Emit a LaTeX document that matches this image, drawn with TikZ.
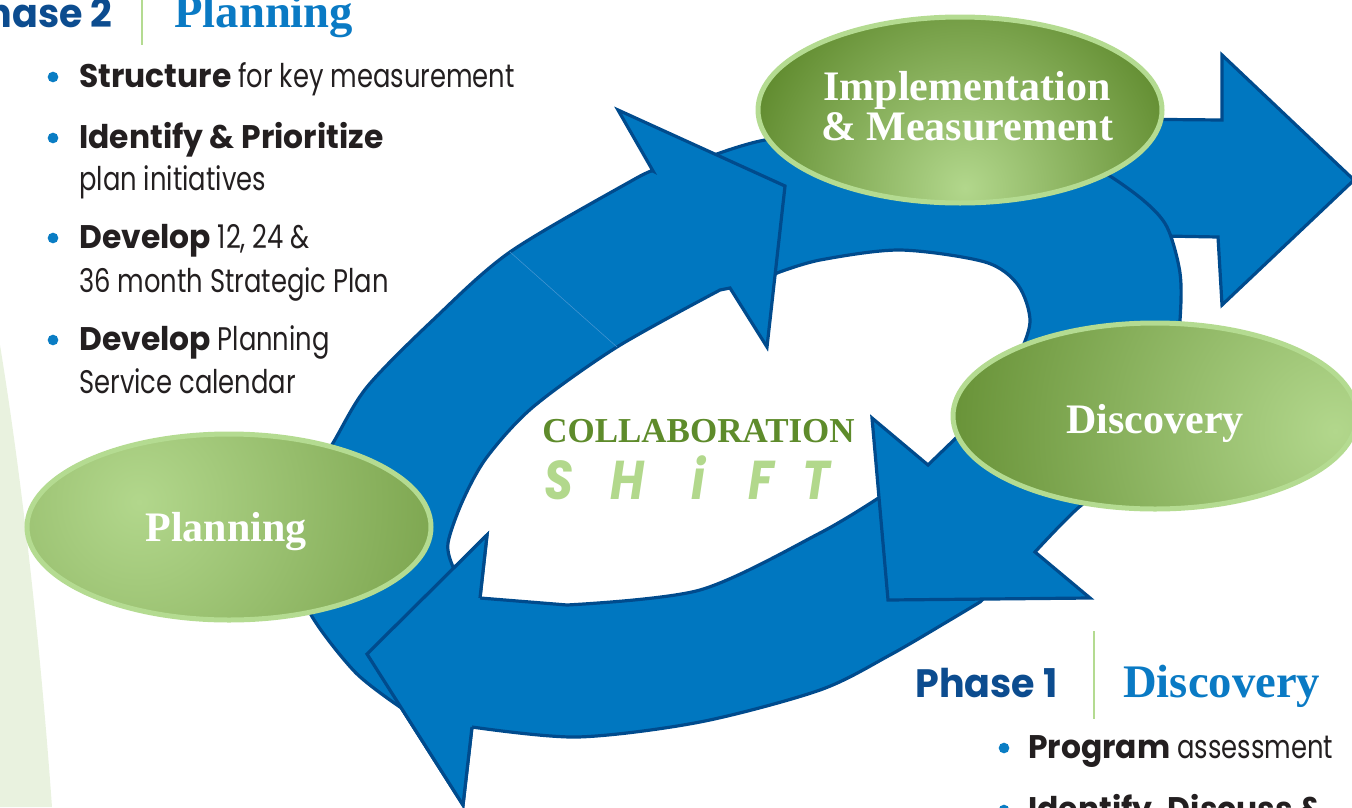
\documentclass[tikz,border=0pt]{standalone}
\usepackage{fontspec}
\setmainfont{Liberation Serif}
\newfontfamily\geo{Poppins}[
  UprightFeatures={FakeStretch=0.79},
  BoldFeatures={FakeStretch=0.96},
  BoldItalicFeatures={FakeStretch=0.85}]
\newfontfamily\titlefont{Liberation Serif}
\usetikzlibrary{shapes.geometric}

\definecolor{ringblue}{RGB}{0,119,192}
\definecolor{ringedge}{RGB}{0,75,141}
\definecolor{leafdark}{RGB}{94,137,44}
\definecolor{leaflight}{RGB}{178,215,140}
\definecolor{rimgreen}{RGB}{180,219,145}
\definecolor{mist}{RGB}{233,242,223}
\definecolor{navy}{RGB}{12,76,143}
\definecolor{titleblue}{RGB}{10,122,196}
\definecolor{dotblue}{RGB}{10,125,196}
\definecolor{ink}{RGB}{35,31,32}
\definecolor{shiftgreen}{RGB}{178,216,140}
\definecolor{collabgreen}{RGB}{94,139,43}
\definecolor{seamblue}{RGB}{70,150,210}

\tikzset{
  ring/.style={fill=ringblue, draw=ringedge, line width=2.4pt, line join=miter},
  ringline/.style={draw=ringedge, line width=2.4pt, line join=miter},
  glow/.style args={#1,#2,#3}{path picture={
      \fill[leafdark] (path picture bounding box.south west) rectangle (path picture bounding box.north east);
      \shade[inner color=leaflight, outer color=leafdark]
        ([shift={(#1,#2)}]path picture bounding box.center) circle[radius=#3];}},
  leaf/.style={ellipse, draw=rimgreen, line width=3.75pt, inner sep=0pt,
    minimum width=303pt, minimum height=139.5pt},
  elltext/.style={text=white, inner sep=0pt,
    font=\titlefont\bfseries\fontsize{31.5pt}{36pt}\selectfont},
  phasehead/.style={text=navy, inner sep=0pt, font=\geo\bfseries\fontsize{29.7pt}{34pt}\selectfont},
  phasetitle/.style={text=titleblue, inner sep=0pt, font=\titlefont\bfseries\fontsize{35pt}{40pt}\selectfont},
  divider/.style={draw=rimgreen, line width=1.6pt},
  item/.style={text=ink, inner sep=0pt, anchor=base west, font=\geo\fontsize{24.5pt}{30pt}\selectfont},
  dot/.style={circle, fill=dotblue, inner sep=0pt, minimum size=8pt},
}

\begin{document}
\begin{tikzpicture}[x=0.75pt, y=-0.75pt]
\useasboundingbox (0,0) rectangle (1352,807);

% pale band along the left edge
\fill[mist] (0,345) .. controls (22,480) and (40,640) .. (52,807) -- (0,807) -- cycle;

% exit arrow pointing right
\filldraw[ring] (1000,118) -- (1222,120) -- (1222,55) -- (1354,180) -- (1222,305)
  -- (1218,237) -- (1000,233) -- cycle;

% lower arc, head pointing left
\filldraw[ring] (900,490) -- (990,592)
  -- plot[smooth] coordinates {(980,602) (950,620) (890,655) (820,690) (700,722) (577,737) (472,727)}
  -- (463,805) -- (367,654) -- (487,535) -- (480,598)
  -- plot[smooth] coordinates {(567,605) (700,590) (820,533) (880,497)}
  -- cycle;

% upper-right arc, head pointing down-left
\filldraw[ring] (700,160)
  -- plot[smooth] coordinates {(717,154) (765,140) (860,128) (960,130) (1050,148) (1100,170)
       (1143,200) (1167,227) (1180,273) (1180,320) (1172,390) (1140,458) (1078,508) (1035,552)}
  -- (1090,598) -- (888,600) -- (872,418) -- (928,465)
  -- plot[smooth] coordinates {(957,437) (985,400) (1015,362) (1030,322) (1018,285) (985,262)
       (900,250) (820,260) (777,273)}
  -- (760,285) -- cycle;

% left arc, head pointing up-right
\filldraw[ring] (415,712)
  -- plot[smooth] coordinates {(400,707) (355,672) (310,613) (292,555) (302,495) (333,443)
       (367,387) (433,320) (510,252) (633,180) (653,171)}
  -- (618,110) -- (785,186) -- (767,347) -- (730,288)
  -- plot[smooth] coordinates {(720,290) (617,347) (533,407) (487,457) (463,500) (448,543)
       (453,567) (462,580)}
  -- cycle;
\draw[seamblue, line width=0.4pt] (510,252) -- (617,347);

% lower head laid over the tail of the left arc
\fill[ringblue] (472,727) -- (463,805) -- (367,654) -- (487,535) -- (480,598) -- cycle;
\draw[ringline] (472,727) -- (463,805) -- (367,654) -- (487,535) -- (480,598);

% stage ellipses
\node[leaf, glow={5,78,175pt}] (impl) at (960,110) {};
\node[leaf, glow={180,15,330pt}] (disc) at (1155,416) {};
\node[leaf, glow={-90,-25,360pt}] (plan) at (229,527) {};

\node[elltext, anchor=base] (implA) at (967,100) {Implementation};
\node[elltext, anchor=base] (implB) at (967,140) {\& Measurement};
\node[elltext, anchor=base] (discT) at (1155,433) {Discovery};
\node[elltext, anchor=base] (planT) at (226,541) {Planning};

% centre caption
\node[anchor=base west, inner sep=0pt, text=collabgreen,
  font=\titlefont\bfseries\fontsize{26.25pt}{30pt}\selectfont] (collab) at (542,442) {COLLABORATION};
\node[anchor=base west, inner sep=0pt, text=shiftgreen,
  font=\geo\bfseries\itshape\fontsize{41pt}{44pt}\selectfont] (shift) at (544,499)
  {S\hspace{28pt}H\hspace{35pt}i\hspace{33pt}F\hspace{21pt}T};

% phase 2 block
\node[phasehead, anchor=base east] (ph2) at (113,27) {Phase 2};
\draw[divider] (142,-2) -- (142,45);
\node[phasetitle, anchor=base west] (ph2t) at (174,27) {Planning};

\node[dot] (d1) at (53,77) {};
\node[item] (s1) at (79,87) {\textbf{Structure} for key measurement};
\node[dot] (d2) at (53,138) {};
\node[item] (s2a) at (79,148) {\textbf{Identify \& Prioritize}};
\node[item] (s2b) at (79,190) {plan initiatives};
\node[dot] (d3) at (53,238) {};
\node[item] (s3a) at (79,248) {\textbf{Develop} 12, 24 \&};
\node[item] (s3b) at (79,292) {36 month Strategic Plan};
\node[dot] (d4) at (53,340) {};
\node[item] (s4a) at (79,350) {\textbf{Develop} Planning};
\node[item] (s4b) at (79,393) {Service calendar};

% phase 1 block
\node[phasehead, anchor=base west] (ph1) at (915,697) {Phase 1};
\draw[divider] (1094,631) -- (1094,719);
\node[phasetitle, anchor=base west] (ph1t) at (1123,697) {Discovery};

\node[dot] (d5) at (1004,748) {};
\node[item] (r1) at (1028,758) {\textbf{Program} assessment};
\node[dot] (d6) at (1004,810) {};
\node[item] (r2) at (1028,820) {\textbf{Identify, Discuss \&}};
\end{tikzpicture}
\end{document}
